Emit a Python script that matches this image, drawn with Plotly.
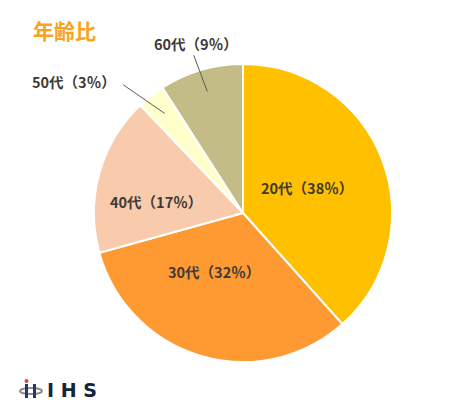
import math
import plotly.graph_objects as go

# Données
ages = ["20代", "30代", "40代", "50代", "60代"]
parts = [38, 32, 17, 3, 9]
couleurs = ["#FFC000", "#FF9A33", "#F8CBAD", "#FFFFCC", "#C4BC86"]

W, H = 469, 406
# centre et rayon du camembert (px)
CX, CY, R = 243, 213, 149

# placement des étiquettes : (rayon relatif, décalage d'angle), puis départ du trait (ou None)
placement = [((0.46, -1), None), ((0.44, 10), None), ((0.59, -8), None),
             ((1.44, -14), (1.19, -5)), ((1.18, 1), (1.12, -1))]

fig = go.Figure(go.Pie(
    labels=ages, values=parts, sort=False, direction="clockwise", rotation=0,
    marker=dict(colors=couleurs, line=dict(color="white", width=2)),
    textinfo="none", hoverinfo="label+percent", showlegend=False,
    domain=dict(x=[(CX - R) / W, (CX + R) / W], y=[1 - (CY + R) / H, 1 - (CY - R) / H]),
))


def polaire(r, angle):
    a = math.radians(angle)
    return CX + r * R * math.sin(a), CY - r * R * math.cos(a)


def to_paper(px, py):
    return px / W, 1 - py / H


total = sum(parts)
cumul = 0
annotations = []
police = dict(size=14.5, color="#403A35")
for age, v, ((rr, dt), trait) in zip(ages, parts, placement):
    mid = (cumul + v / 2) / total * 360
    cumul += v
    x, y = to_paper(*polaire(rr, mid + dt))
    annotations.append(dict(x=x, y=y, xref="paper", yref="paper",
                            text=f"<b>{age}（{v}％）</b>",
                            xanchor="center", yanchor="middle",
                            showarrow=False, font=police))
    if trait:
        hx, hy = polaire(0.85, mid)
        tx, ty = polaire(trait[0], mid + trait[1])
        x, y = to_paper(hx, hy)
        annotations.append(dict(x=x, y=y, xref="paper", yref="paper", text="",
                                showarrow=True, arrowhead=0, arrowwidth=1,
                                arrowcolor="#595959", ax=tx - hx, ay=ty - hy))

# titre
annotations.append(dict(x=31 / W, y=1 - 30 / H, xref="paper", yref="paper",
                        xanchor="left", yanchor="middle",
                        text="<b>年齢比</b>", showarrow=False,
                        font=dict(size=21, color="#F8A31C")))
# logo IHS
annotations.append(dict(x=45 / W, y=1 - 390 / H, xref="paper", yref="paper",
                        xanchor="left", yanchor="middle",
                        text="<b>I H S</b>", showarrow=False,
                        font=dict(size=19, color="#14243F", family="DejaVu Sans")))

shapes = [
    dict(type="circle", xref="paper", yref="paper",
         x0=20 / W, x1=42 / W, y0=1 - 394 / H, y1=1 - 388 / H,
         line=dict(color="#8C8C8C", width=2)),
    dict(type="rect", xref="paper", yref="paper",
         x0=25 / W, x1=28 / W, y0=1 - 398 / H, y1=1 - 384 / H,
         fillcolor="#1F3A6B", line_width=0),
    dict(type="rect", xref="paper", yref="paper",
         x0=33 / W, x1=36 / W, y0=1 - 398 / H, y1=1 - 384 / H,
         fillcolor="#1F3A6B", line_width=0),
    dict(type="circle", xref="paper", yref="paper",
         x0=24.5 / W, x1=28.5 / W, y0=1 - 383 / H, y1=1 - 379 / H,
         fillcolor="#E8432A", line_width=0),
]

fig.update_layout(
    width=W, height=H, margin=dict(l=0, r=0, t=0, b=0),
    paper_bgcolor="white", plot_bgcolor="white",
    font=dict(family="Noto Sans CJK JP"),
    annotations=annotations, shapes=shapes,
)

fig.write_html("out.html", config={"displayModeBar": False},
               post_script="document.body.style.margin='0';")
